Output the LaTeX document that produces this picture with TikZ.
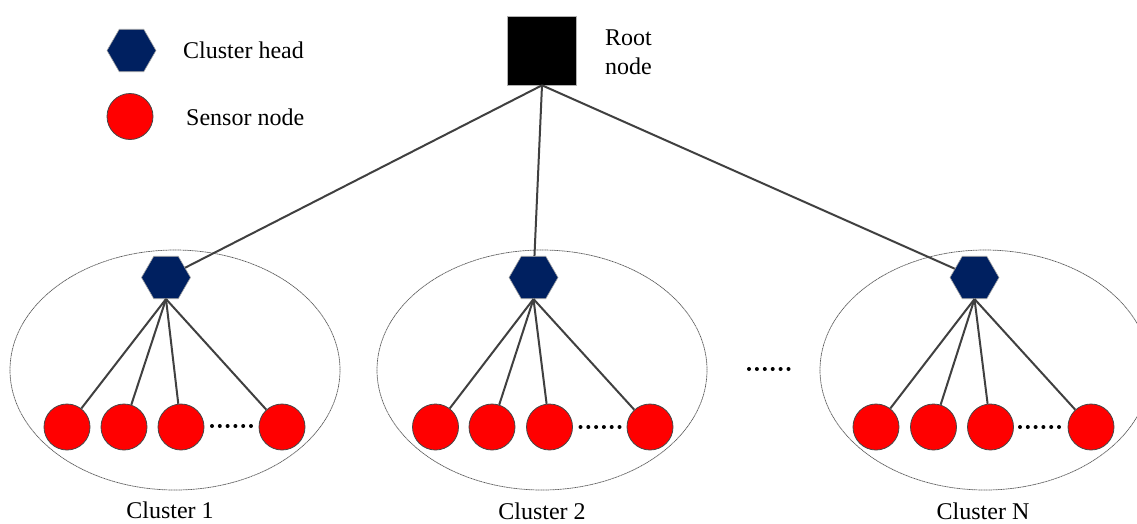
\documentclass[tikz,border=0pt]{standalone}
\usepackage{fontspec}
\setmainfont{Liberation Serif}
\usetikzlibrary{shapes.geometric}
\definecolor{headblue}{HTML}{002060}
\definecolor{sensorred}{HTML}{FF0000}
\definecolor{linkgray}{HTML}{404040}
\begin{document}
\begin{tikzpicture}[x=1pt,y=-1pt,
  head/.style={regular polygon, regular polygon sides=6, minimum size=49pt,
    inner sep=0pt, fill=headblue, draw=gray!70, line width=0.6pt},
  sensor/.style={circle, minimum size=46pt, inner sep=0pt, fill=sensorred,
    draw=gray!55!black, line width=0.8pt},
  rootbox/.style={rectangle, minimum size=69pt, inner sep=0pt, fill=black,
    draw=gray!60, line width=0.6pt},
  region/.style={ellipse, minimum width=330pt, minimum height=240pt, inner sep=0pt,
    draw=gray!70!black, line width=0.7pt, dash pattern=on 1.2pt off 0.5pt},
  link/.style={draw=linkgray, line width=2pt},
  txt/.style={font=\fontsize{24}{29}\selectfont, inner sep=0pt},
  dot/.style={circle, fill=black, minimum size=4pt, inner sep=0pt},
]
\useasboundingbox (0,0) rectangle (1137,523);

% cluster regions
\node[region] (e1) at (175,370) {};
\node[region] (e2) at (542,370) {};
\node[region] (eN) at (985,370) {};

% legend
\node[head] (lh) at (131.5,50.5) {};
\node[sensor] (ls) at (130,116.5) {};
\node[txt, anchor=west] (lht) at (183,50) {Cluster head};
\node[txt, anchor=west] (lst) at (186,117) {Sensor node};

% root
\node[rootbox] (root) at (542,50.5) {};
\node[txt, anchor=west, align=left] (roott) at (605,52) {Root\\node};

% cluster heads
\node[head] (h1) at (166,277.5) {};
\node[head] (h2) at (533.5,277.5) {};
\node[head] (hN) at (974.5,277.5) {};

% sensor nodes
\foreach \x [count=\i] in {67,124,181,282}
  \node[sensor] (s1\i) at (\x,427) {};
\foreach \x [count=\i] in {435.5,492,549.5,650}
  \node[sensor] (s2\i) at (\x,427) {};
\foreach \x [count=\i] in {876,933.5,990.5,1091}
  \node[sensor] (sN\i) at (\x,427) {};

% links
\foreach \c in {1,2,N} {
  \draw[link] (root.south) -- (h\c);
  \foreach \i in {1,...,4}
    \draw[link] (h\c.south) -- (s\c\i);
}

% ellipsis dots
\foreach \x in {0,...,5} {
  \node[dot] (d1\x) at (212+7.8*\x,426) {};
  \node[dot] (d2\x) at (580.5+7.8*\x,427) {};
  \node[dot] (dN\x) at (1020+7.8*\x,427) {};
  \node[dot] (dm\x) at (749+7.9*\x,369) {};
}

% cluster labels
\node[txt, anchor=base] (c1) at (170,518) {Cluster 1};
\node[txt, anchor=base] (c2) at (542,519.5) {Cluster 2};
\node[txt, anchor=base] (cN) at (983,519) {Cluster N};
\end{tikzpicture}
\end{document}
